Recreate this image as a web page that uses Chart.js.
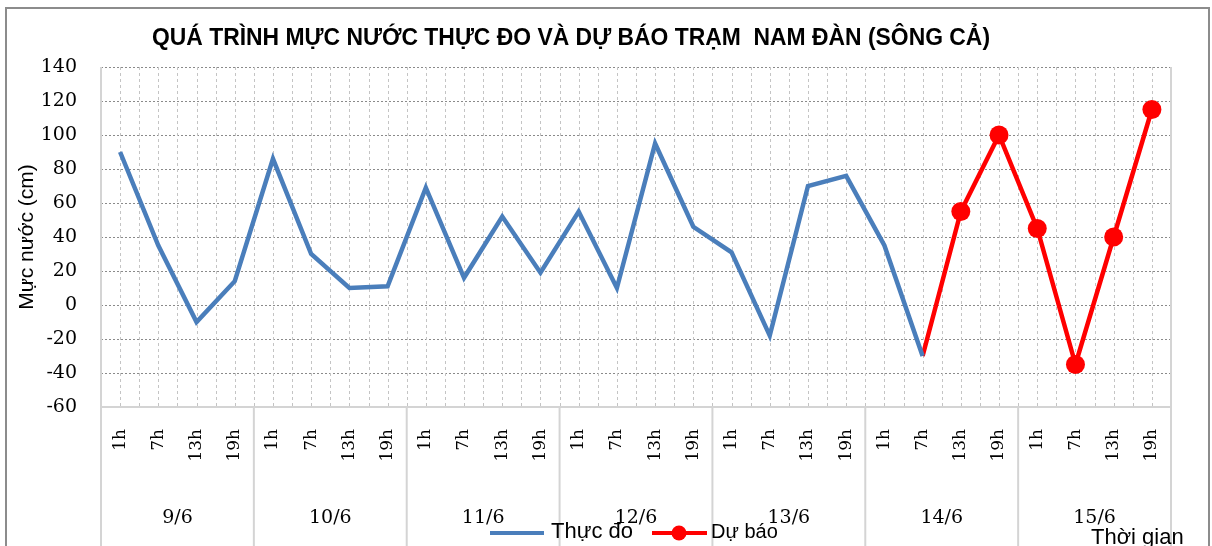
<!DOCTYPE html>
<html>
<head>
<meta charset="utf-8">
<script src="https://cdn.jsdelivr.net/npm/chart.js@4.4.1/dist/chart.umd.min.js"></script>
<style>
  html, body { margin: 0; padding: 0; background: #fff; }
  #wrap { position: relative; width: 1212px; height: 546px; }
</style>
</head>
<body>
<div id="wrap"><canvas id="chart_area" width="1212" height="546"></canvas></div>
<script>
// du lieu doc tu hinh
const dayLabels = ['9/6', '10/6', '11/6', '12/6', '13/6', '14/6', '15/6'];
const hourLabels = ['1h', '7h', '13h', '19h'];
const thucDo = [90, 35, -10, 14, 86, 30, 10, 11, 69, 16, 52, 19, 55, 10, 95, 46, 31, -18, 70, 76, 35, -30,
  null, null, null, null, null, null];
const duBao = [null, null, null, null, null, null, null, null, null, null, null, null, null, null,
  null, null, null, null, null, null, null, -30, 55, 100, 45, -35, 40, 115];
const yTicks = { min: -60, max: 140, step: 20 };

let categories = [];
dayLabels.forEach(function (d) {
  hourLabels.forEach(function (h) { categories.push(h); });
});

const BLUE = '#4A7EBB';
const RED = '#FF0000';
const firstForecast = duBao.findIndex(v => v !== null);

const decorPlugin = {
  id: 'decor',
  beforeDatasetsDraw(chart) {
    const ctx = chart.ctx;
    const area = chart.chartArea;
    const x = chart.scales.x;
    const step = (area.right - area.left) / categories.length;
    ctx.save();
    // duong luoi doc (moi nua khoang)
    ctx.strokeStyle = '#c4c4c4';
    ctx.lineWidth = 1;
    ctx.setLineDash([3, 3]);
    for (let i = 1; i < categories.length * 2; i++) {
      const px = Math.round(area.left + i * step / 2) + 0.5;
      ctx.beginPath();
      ctx.moveTo(px, area.top);
      ctx.lineTo(px, area.bottom);
      ctx.stroke();
    }
    ctx.setLineDash([]);
    // khung vung ve
    ctx.strokeStyle = '#d4d4d4';
    ctx.lineWidth = 2;
    ctx.beginPath();
    ctx.moveTo(area.left, area.top);
    ctx.lineTo(area.left, area.bottom);
    ctx.lineTo(area.right, area.bottom);
    ctx.lineTo(area.right, area.top);
    ctx.stroke();
    // vach phan cach ngay
    for (let d = 0; d <= dayLabels.length; d++) {
      const px = area.left + d * hourLabels.length * step;
      ctx.beginPath();
      ctx.moveTo(px, area.bottom);
      ctx.lineTo(px, chart.height);
      ctx.stroke();
    }
    ctx.restore();
  },
  afterDraw(chart) {
    const ctx = chart.ctx;
    const area = chart.chartArea;
    const step = (area.right - area.left) / categories.length;
    ctx.save();
    // tieu de
    const title = 'QUÁ TRÌNH MỰC NƯỚC THỰC ĐO VÀ DỰ BÁO TRẠM  NAM ĐÀN (SÔNG CẢ)';
    ctx.font = 'bold 23px "Liberation Sans"';
    ctx.fillStyle = '#000';
    ctx.textBaseline = 'middle';
    ctx.textAlign = 'center';
    const w = ctx.measureText(title).width;
    const target = 838;
    ctx.translate(571, 39);
    if (w > target) ctx.scale(target / w, 1);
    ctx.fillText(title, 0, 0);
    ctx.setTransform(1, 0, 0, 1, 0, 0);

    // nhan ngay
    ctx.font = '19px "DejaVu Serif"';
    ctx.textAlign = 'center';
    dayLabels.forEach(function (d, i) {
      const cx = area.left + (i + 0.5) * hourLabels.length * step;
      ctx.fillText(d, cx, 518);
    });

    // chu giai
    ctx.lineWidth = 4;
    ctx.strokeStyle = BLUE;
    ctx.beginPath();
    ctx.moveTo(490, 533);
    ctx.lineTo(544, 533);
    ctx.stroke();
    ctx.textAlign = 'left';
    ctx.font = '22px "Liberation Sans"';
    ctx.fillText(chart.data.datasets[0].label, 551, 532);

    ctx.strokeStyle = RED;
    ctx.fillStyle = RED;
    ctx.beginPath();
    ctx.moveTo(652, 533);
    ctx.lineTo(707, 533);
    ctx.stroke();
    ctx.beginPath();
    ctx.arc(679, 533, 7.5, 0, Math.PI * 2);
    ctx.fill();
    ctx.fillStyle = '#000';
    ctx.font = '20px "Liberation Sans"';
    ctx.fillText(chart.data.datasets[1].label, 711, 532);

    // ten truc hoanh
    ctx.font = '22px "Liberation Sans"';
    ctx.textBaseline = 'alphabetic';
    ctx.fillText('Thời gian', 1091, 544);

    // khung ngoai
    ctx.strokeStyle = '#8c8c8c';
    ctx.lineWidth = 2;
    ctx.strokeRect(6, 8, 1203, 560);
    ctx.restore();
  }
};

const ctx = document.getElementById('chart_area').getContext('2d');
const chart = new Chart(ctx, {
  type: 'line',
  data: {
    labels: categories,
    datasets: [
      {
        label: 'Thực đo',
        data: thucDo,
        borderColor: BLUE,
        backgroundColor: BLUE,
        borderWidth: 4.5,
        pointRadius: 0,
        tension: 0,
        spanGaps: false
      },
      {
        label: 'Dự báo',
        data: duBao,
        borderColor: RED,
        backgroundColor: RED,
        borderWidth: 4.5,
        pointRadius: (c) => c.dataIndex === firstForecast ? 0 : 9.5,
        pointBorderWidth: 0,
        pointBackgroundColor: RED,
        tension: 0
      }
    ]
  },
  options: {
    responsive: false,
    animation: false,
    events: [],
    layout: { padding: { top: 67, right: 41, left: 0, bottom: 0 } },
    plugins: {
      legend: { display: false },
      tooltip: { enabled: false },
      title: { display: false }
    },
    scales: {
      x: {
        type: 'category',
        offset: true,
        grid: { display: false, drawTicks: false },
        border: { display: false },
        ticks: {
          autoSkip: false,
          minRotation: 90,
          maxRotation: 90,
          padding: 22,
          color: '#000',
          font: { family: 'DejaVu Serif', size: 17 }
        },
        afterFit(scale) { scale.height = 139; }
      },
      y: {
        min: yTicks.min,
        max: yTicks.max,
        grid: { color: '#8a8a8a', lineWidth: 1, drawTicks: false },
        border: { display: false, dash: [2, 2] },
        ticks: {
          stepSize: yTicks.step,
          padding: 24,
          color: '#000',
          font: { family: 'DejaVu Serif', size: 19 }
        },
        title: {
          display: true,
          text: 'Mực nước (cm)',
          color: '#000',
          padding: { top: 15, bottom: 0 },
          font: { family: 'Liberation Sans', size: 21 }
        },
        afterFit(scale) { scale.width = 101; }
      }
    }
  },
  plugins: [decorPlugin]
});
</script>
</body>
</html>
